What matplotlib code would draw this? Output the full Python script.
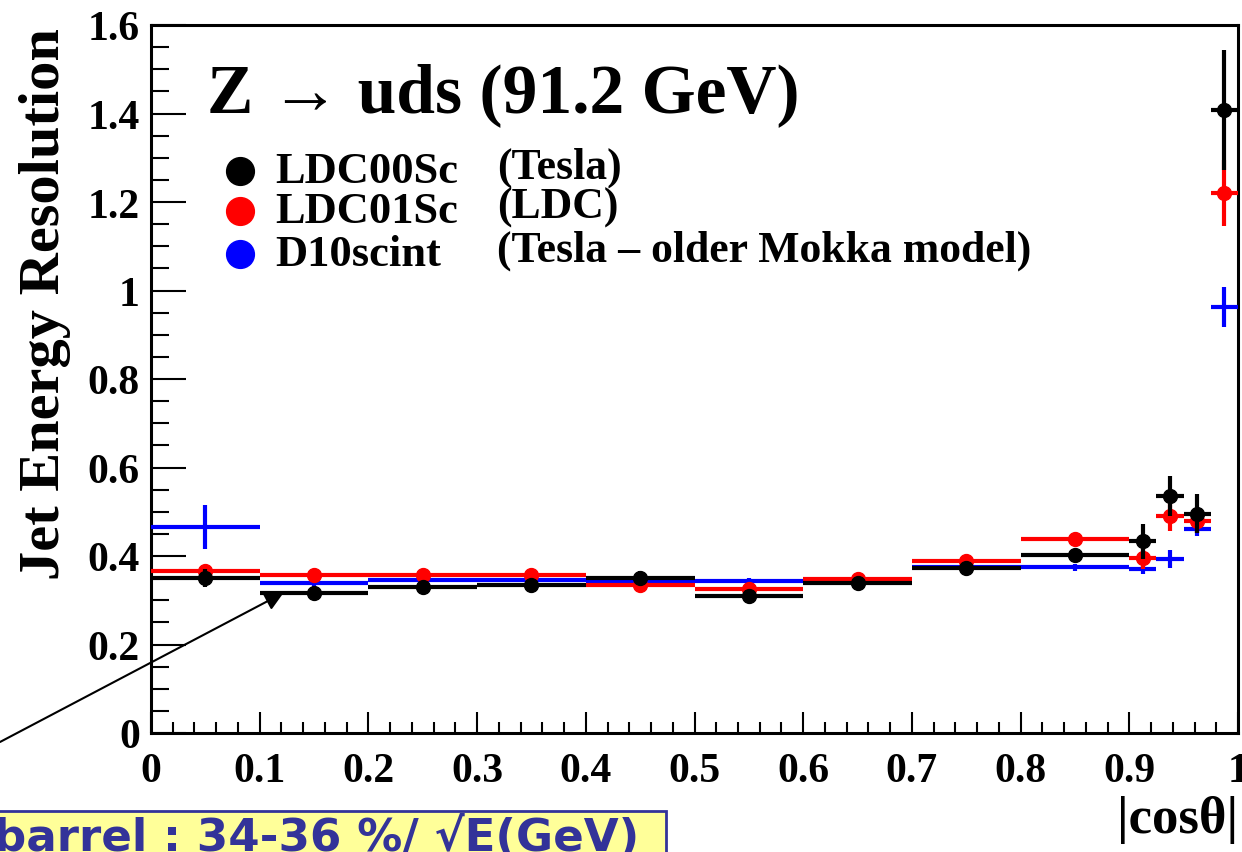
import matplotlib
matplotlib.use('Agg')
import matplotlib.pyplot as plt
from matplotlib.patches import Rectangle
import numpy as np

# |cos(theta)| binning: 0.1 wide up to 0.9, then 0.025 wide
bin_lo = [0.0, 0.1, 0.2, 0.3, 0.4, 0.5, 0.6, 0.7, 0.8, 0.9, 0.925, 0.95, 0.975]
bin_hi = [0.1, 0.2, 0.3, 0.4, 0.5, 0.6, 0.7, 0.8, 0.9, 0.925, 0.95, 0.975, 1.0]

# LDC00Sc (Tesla)
res_ldc00 = [0.350, 0.316, 0.329, 0.334, 0.350, 0.310, 0.339, 0.374, 0.402,
             0.433, 0.536, 0.496, 1.408]
err_ldc00 = [0.020, 0.012, 0.010, 0.010, 0.015, 0.010, 0.010, 0.010, 0.012,
             0.040, 0.045, 0.045, 0.135]
# LDC01Sc (LDC)
res_ldc01 = [0.365, 0.356, 0.356, 0.356, 0.334, 0.325, 0.348, 0.388, 0.438,
             0.395, 0.491, 0.478, 1.220]
err_ldc01 = [0.010, 0.012, 0.010, 0.010, 0.010, 0.010, 0.010, 0.010, 0.010,
             0.025, 0.035, 0.025, 0.075]
# D10scint (Tesla - older Mokka model)
res_d10 = [0.465, 0.338, 0.346, 0.346, 0.344, 0.343, 0.345, 0.376, 0.375,
           0.371, 0.393, 0.461, 0.963]
err_d10 = [0.050, 0.008, 0.008, 0.008, 0.008, 0.008, 0.008, 0.008, 0.008,
           0.012, 0.020, 0.015, 0.045]

y_ticks = [0, 0.2, 0.4, 0.6, 0.8, 1.0, 1.2, 1.4, 1.6]
y_ticklabels = ['0', '0.2', '0.4', '0.6', '0.8', '1', '1.2', '1.4', '1.6']
x_ticks = [0, 0.1, 0.2, 0.3, 0.4, 0.5, 0.6, 0.7, 0.8, 0.9, 1.0]
x_ticklabels = ['0', '0.1', '0.2', '0.3', '0.4', '0.5', '0.6', '0.7', '0.8', '0.9', '1']

serif = 'Liberation Serif'
W, H = 1242, 853

lo = np.array(bin_lo)
hi = np.array(bin_hi)
xc = 0.5*(lo+hi)
xw = 0.5*(hi-lo)

fig = plt.figure(figsize=(W/100, H/100), dpi=100)
ax = fig.add_axes([151/W, 1-734/H, (1238-151)/W, (734-26)/H])

ax.errorbar(xc, res_d10, xerr=xw, yerr=err_d10, fmt='none', ecolor='#0000ff',
            elinewidth=3, capsize=0, zorder=3)
ax.errorbar(xc, res_ldc01, xerr=xw, yerr=err_ldc01, fmt='o', color='#ff0000',
            ecolor='#ff0000', ms=10, elinewidth=3, capsize=0, zorder=4)
ax.errorbar(xc, res_ldc00, xerr=xw, yerr=err_ldc00, fmt='o', color='black',
            ecolor='black', ms=10, elinewidth=3, capsize=0, zorder=5)

ax.set_xlim(0, 1)
ax.set_ylim(0, 1.6)
ax.set_xticks(x_ticks)
ax.set_xticklabels(x_ticklabels)
ax.set_yticks(y_ticks)
ax.set_yticklabels(y_ticklabels)
ax.set_xticks(np.arange(0, 1.0001, 0.02), minor=True)
ax.set_yticks(np.arange(0, 1.6001, 0.05), minor=True)
for lab in ax.get_xticklabels()+ax.get_yticklabels():
    lab.set_fontfamily(serif)
    lab.set_fontweight('bold')
    lab.set_fontsize(30)
ax.tick_params(axis='y', which='major', direction='in', length=25, width=1.5, pad=8)
ax.tick_params(axis='y', which='minor', direction='in', length=13, width=1.5)
ax.tick_params(axis='x', which='major', direction='in', length=15, width=1.5, pad=14)
ax.tick_params(axis='x', which='minor', direction='in', length=8, width=1.5)
for sp in ax.spines.values():
    sp.set_linewidth(2.2)

fig.text(45/W, 1-304/H, 'Jet Energy Resolution', rotation=90, ha='center',
         va='center', fontfamily=serif, fontweight='bold', fontsize=42)
fig.text(1238/W, 1-820/H, '|cos\u03b8|', ha='right', va='center',
         fontfamily=serif, fontweight='bold', fontsize=38)

# title and legend block
fig.text(207/W, 1-95/H, 'Z \u2192 uds (91.2 GeV)', ha='left', va='center',
         fontfamily=serif, fontweight='bold', fontsize=50)
legend_rows = [('LDC00Sc', '(Tesla)', 'black', 172),
               ('LDC01Sc', '(LDC)', '#ff0000', 212),
               ('D10scint', '(Tesla \u2013 older Mokka model)', '#0000ff', 255)]
for name, desc, col, ypix in legend_rows:
    fig.lines.append(plt.Line2D([240/W], [1-ypix/H], marker='o', ms=20, color=col,
                                transform=fig.transFigure))
    fig.text(275/W, 1-ypix/H, name, ha='left', va='center', fontfamily=serif,
             fontweight='bold', fontsize=32)
    fig.text(497/W, 1-(ypix-4)/H, desc, ha='left', va='center', fontfamily=serif,
             fontweight='bold', fontsize=31.5)

# arrow pointing at the barrel region
ax.annotate('', xy=(0.122, 0.317), xycoords='data', xytext=(0, H-743),
            textcoords='figure pixels', annotation_clip=False,
            arrowprops=dict(arrowstyle='-|>', mutation_scale=28, lw=1.5,
                            color='black', shrinkA=0, shrinkB=0))

# resolution summary box
fig.patches.append(Rectangle((-10/W, -10/H), 676/W, (H-812+10)/H,
                             transform=fig.transFigure, facecolor='#ffff99',
                             edgecolor='#333399', lw=2))
fig.text(-6/W, 2/H, 'barrel : 34-36 %/ \u221aE(GeV)', ha='left', va='baseline',
         fontfamily='DejaVu Sans', fontweight='bold', fontsize=32.5, color='#333399')

fig.savefig('out.png', dpi=100)
